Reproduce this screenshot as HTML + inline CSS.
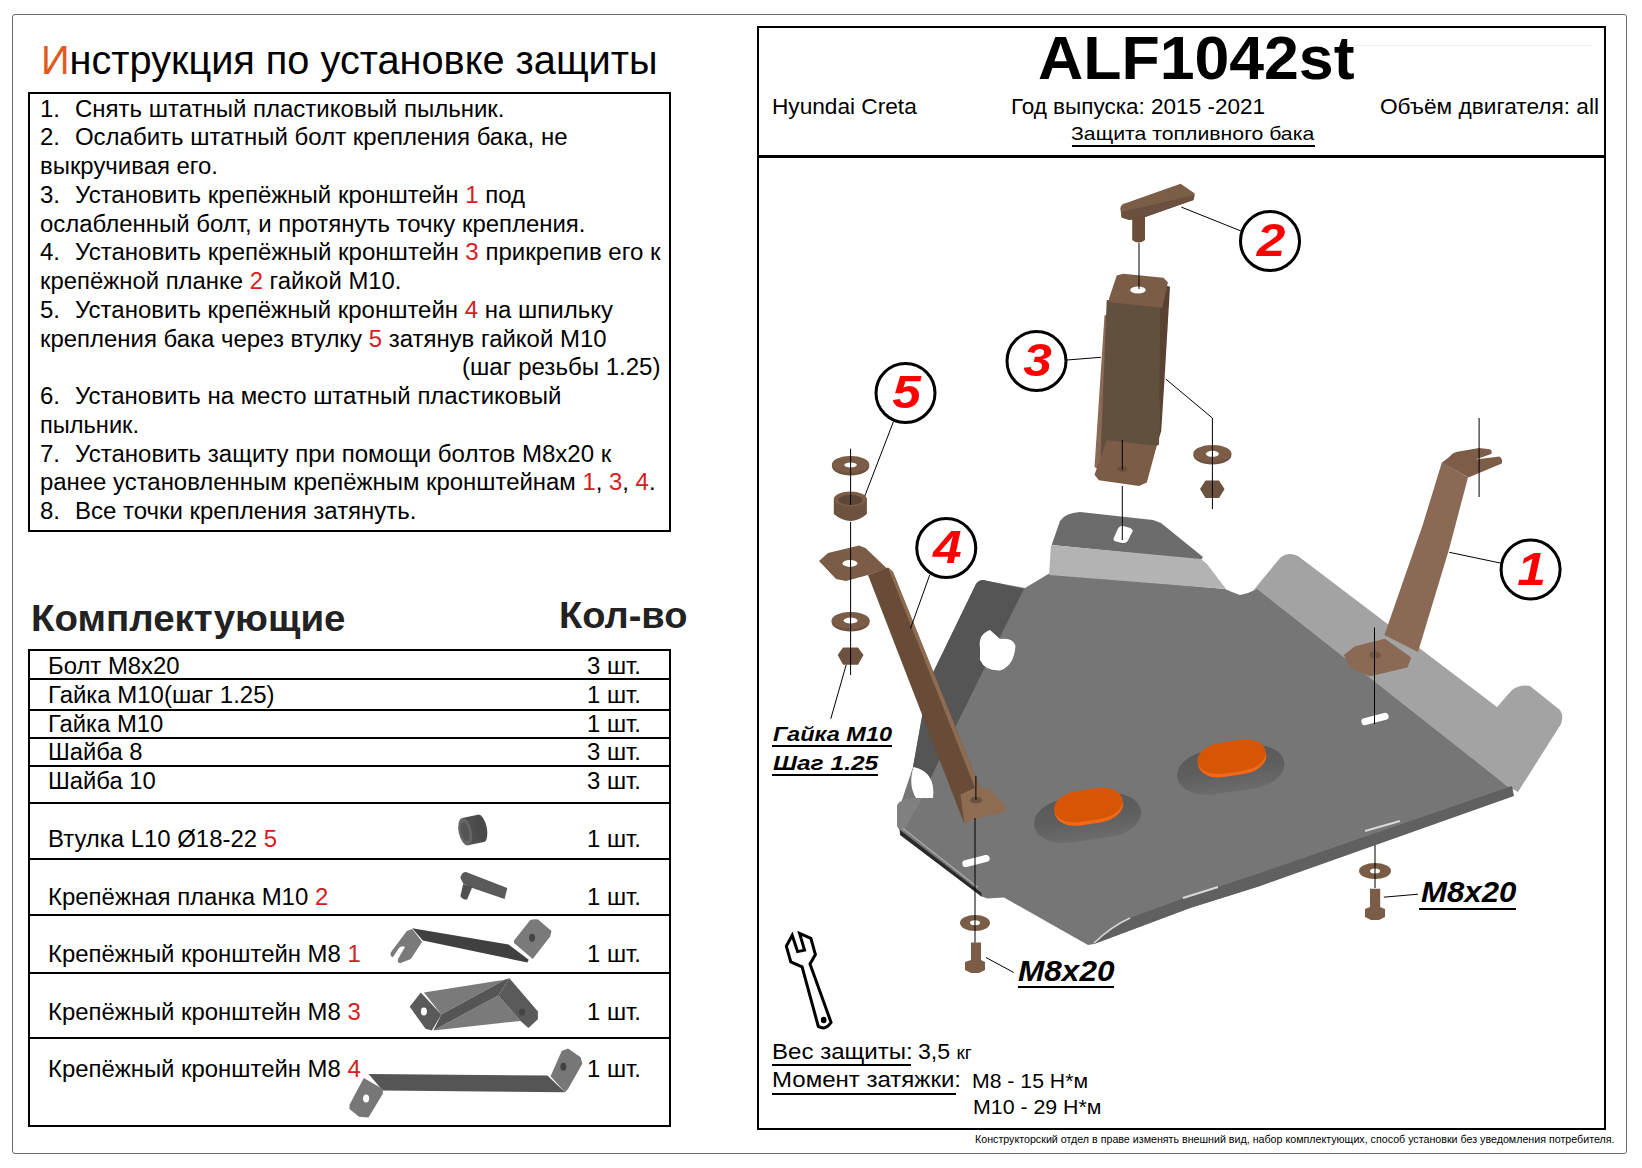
<!DOCTYPE html>
<html><head><meta charset="utf-8"><style>
html,body{margin:0;padding:0;background:#fff;}
body{width:1642px;height:1168px;position:relative;overflow:hidden;font-family:"Liberation Sans",sans-serif;color:#000;}
.a{position:absolute;white-space:nowrap;line-height:1;transform-origin:0 0;}
.r{color:#d42020;}
#outer{position:absolute;left:12px;top:14px;width:1615px;height:1140px;border:1.5px solid #6a6a6a;box-sizing:border-box;border-radius:3px;}
.bx{position:absolute;border:2px solid #000;box-sizing:border-box;}
.hl{position:absolute;height:2px;background:#000;}
svg{position:absolute;left:0;top:0;}
.nb{display:inline-block;width:33.5px;}

</style></head><body>
<div id="outer"></div>
<div class="bx" style="left:28px;top:92px;width:643px;height:440px;"></div>
<div class="bx" style="left:28px;top:649px;width:643px;height:478px;"></div>
<div class="hl" style="left:28px;top:678px;width:643px;"></div>
<div class="hl" style="left:28px;top:709px;width:643px;"></div>
<div class="hl" style="left:28px;top:737px;width:643px;"></div>
<div class="hl" style="left:28px;top:765px;width:643px;"></div>
<div class="hl" style="left:28px;top:802px;width:643px;"></div>
<div class="hl" style="left:28px;top:858px;width:643px;"></div>
<div class="hl" style="left:28px;top:914px;width:643px;"></div>
<div class="hl" style="left:28px;top:972px;width:643px;"></div>
<div class="hl" style="left:28px;top:1037px;width:643px;"></div>
<div class="bx" style="left:757px;top:26px;width:849px;height:1104px;border-width:2.5px;"></div>
<div class="hl" style="left:757px;top:155px;width:849px;height:2.5px;"></div>
<div style="position:absolute;left:1355px;top:45px;width:237px;height:1px;background:#eee;"></div>
<div class="hl" style="left:772px;top:1064px;width:139px;height:1.5px;"></div>
<div class="hl" style="left:772px;top:1093px;width:184px;height:1.5px;"></div>
<div class="hl" style="left:1072px;top:145px;width:243px;height:1.5px;"></div>
<div class="hl" style="left:772px;top:744.5px;width:120px;height:2px;"></div>
<div class="hl" style="left:772px;top:773.5px;width:106px;height:2px;"></div>
<div class="hl" style="left:1018px;top:986px;width:96px;height:2px;"></div>
<div class="hl" style="left:1419px;top:908px;width:97px;height:2px;"></div>

<svg width="1642" height="1168" viewBox="0 0 1642 1168">
<defs>
 <linearGradient id="rg" x1="0" y1="0" x2="0" y2="1"><stop offset="0" stop-color="#5a5a5a"/><stop offset="0.5" stop-color="#5e5e5e"/><stop offset="1" stop-color="#6c6c6c"/></linearGradient>
 <linearGradient id="og" x1="0" y1="1" x2="0" y2="0"><stop offset="0" stop-color="#f06a12"/><stop offset="0.35" stop-color="#d05008"/><stop offset="1" stop-color="#c44600"/></linearGradient>
</defs>
<g id="plate">
 <!-- right light flange -->
 <path d="M1250,595 L1257,586 L1280,558 Q1288,551 1298,556 L1497,707 L1512,690 Q1520,684 1530,686 L1560,710 Q1564,716 1561,724 L1518,792 L1507,786 Z" fill="#a3a3a3"/>
 <!-- main plate -->
 <path d="M1025,588 L1030,585 L1050,573 L1225,589 L1232,592 L1240,595 L1248,593 L1257,589 L1507,786 L1513,788 L1260,886 L1241,892 L1190,908 L1094,944 L1088,945 L1004,897.6 L987,898.5 L982,896.6 L900,834 L897,815 L913,767 L928,683 L976,584 Q979,580 983,580 Z" fill="#767676"/>
 <!-- left dark flange -->
 <path d="M983,580 L1024,589 L983,671 L950,738 L921,798 L916,798 L913,767 L928,683 L976,584 Q979,580 983,580 Z" fill="#555"/>
 <path d="M897,805 Q901,798 916,798 L922,798 L902,834 L897,826 Z" fill="#808080"/>
 <!-- top tab -->
 <path d="M1052,544 L1060,521 Q1065,513 1080,512 L1153,520 L1161,523 L1203,557 L1201,560 L1052,545 Z" fill="#6c6c6c"/>
 <!-- light strip -->
 <path d="M1051,545 L1201,559 L1207,564 L1226,589 L1049,575 Z" fill="#b3b3b3"/>
 <!-- front lip -->
 <path d="M1094,944 Q1112,926 1130,918 L1183,898.5 L1260,873 L1512,786 L1514,796 L1260,886 L1241,892 L1190,908 Z" fill="#606060"/>
 <path d="M1094,943 Q1112,926 1130,918" stroke="#d8d8d8" stroke-width="1.5" fill="none"/>
 <path d="M1183,898 L1218,887" stroke="#d8d8d8" stroke-width="2" fill="none"/>
 <path d="M1365,831 L1400,821" stroke="#d8d8d8" stroke-width="2" fill="none"/>
 <!-- left bottom dark edge -->
 <path d="M900,830 L981,892.5 L982,897 L900,835 Z" fill="#2a2a2a"/>
 <path d="M903,828.5 L978,887.5" stroke="#a9a9a9" stroke-width="1.5" fill="none"/>
 <!-- slots / holes -->
 <path d="M1113.5,538.8 L1118,528.5 Q1119.5,525.7 1122.3,525.7 L1129.5,527.8 Q1133,529.5 1132.6,531.2 L1127.4,541.5 Q1125.5,543.3 1122.3,543.1 L1116,541.6 Q1113,540.5 1113.5,538.8 Z" fill="#fff"/>
 <rect x="1361" y="715.5" width="28" height="7" rx="3.5" fill="#fff" transform="rotate(-15 1375 719)"/>
 <rect x="962" y="857.5" width="28" height="7" rx="3.5" fill="#fff" transform="rotate(-14 976 861)"/>
 <path d="M980,648 Q978,634 990,630 L1000,639 Q1013,637 1015.5,646 Q1014,666 1000,670.5 Q985,671 980,660 Z" fill="#fff"/>
 <path d="M913.5,767 Q936,772 933,798 L916,798 Q908,785 913.5,767 Z" fill="#fff"/>
 <!-- pads -->
 <g transform="rotate(-8 1087.5 818.0)">
  <rect x="1033.5" y="796.0" width="108" height="44" rx="34" ry="22" fill="url(#rg)"/>
 </g>
 <g transform="rotate(-9 1088.5 806.0)">
  <rect x="1054.0" y="792.0" width="69" height="32" rx="24" ry="16" fill="#f06818"/>
  <rect x="1054.0" y="789.5" width="69" height="31" rx="24" ry="15.5" fill="#d65606"/>
 </g>
 <g transform="rotate(-8 1230.8 769.7)">
  <rect x="1176.8" y="747.7" width="108" height="44" rx="34" ry="22" fill="url(#rg)"/>
 </g>
 <g transform="rotate(-9 1231.8 757.7)">
  <rect x="1197.3" y="743.7" width="69" height="32" rx="24" ry="16" fill="#f06818"/>
  <rect x="1197.3" y="741.2" width="69" height="31" rx="24" ry="15.5" fill="#d65606"/>
 </g>
</g>
<g id="brackets" fill="#7b5d47">
 <!-- bracket 4 -->
 <path d="M868,575 L888,567.5 L893,572 L989,810 L985,813 L964,823 Z" fill="#684c38"/>
 <path d="M888,567.5 L893,572 L989,810 L985,813 Z" fill="#8d6c52"/>
 <path d="M819,561 L828,553 L859,545.4 L865.5,548 L887,568.5 L868,575 L846,581 L836,579 Z" fill="#7b5d47"/>
 <ellipse cx="850" cy="563.4" rx="7.5" ry="3.5" fill="#fff"/>
 <path d="M960.5,794.4 L974.6,788 L990,789.3 L1005.4,806 L1004,812.4 L979.7,817.5 L964.3,822.7 Z" fill="#8d6c52"/>
 <ellipse cx="976" cy="800" rx="6" ry="3.5" fill="#6d5240"/>
 <!-- bracket 1 -->
 <path d="M1442,462 L1468,477.5 L1449.2,548.7 L1418,651.9 L1384.4,635 L1422.8,524.7 Z" fill="#8a6a55"/>
 <path d="M1449.2,457 Q1452,453 1456,452 L1479.1,448 L1490,449.2 Q1493,452 1491.1,454 L1475.5,459.5 L1499.5,456.4 Q1503,459 1501.9,463.6 L1468.3,477.5 L1442,462.5 Z" fill="#7d5d48"/>
 <path d="M1343.75,655 L1355,646.25 L1385,638.75 L1411.25,657.5 L1407.5,667.5 L1370,676.25 L1350,667.5 Z" fill="#8a6a55"/>
 <ellipse cx="1375" cy="655" rx="6" ry="3.5" fill="#75583f"/>
 <!-- bracket 3 -->
 <path d="M1104.5,315.6 L1110,313 L1100,470 L1094.5,467 Z" fill="#8a6a55"/>
 <path d="M1106.7,300 L1162,304 L1159,444.7 L1100,470 Z" fill="#62503f"/>
 <path d="M1165.7,285.6 L1170,286.7 L1164.6,378 L1161.2,431.3 L1159,438 L1160.1,310 Z" fill="#5a4232"/>
 <path d="M1116.7,275.6 L1123.4,273.8 L1163.4,277.8 L1167.9,282.3 L1162.3,307.8 L1110,302.3 L1108.9,298.9 Z" fill="#7b5d47"/>
 <ellipse cx="1138" cy="290" rx="7.8" ry="3.5" fill="#fff"/>
 <path d="M1106.7,440.2 L1156.8,445.8 L1146.8,482.5 L1139,485.9 L1098.9,480.3 L1094.5,474.7 Z" fill="#7b5d47"/>
 <ellipse cx="1122.3" cy="469" rx="5" ry="3" fill="#6a4f3c"/>
 <!-- part 2 -->
 <path d="M1120.3,208.4 Q1121,204 1125.4,203.3 L1180.6,183.7 L1194.8,193.6 L1193.5,200 L1146,216.7 L1129.3,220 L1121.6,217.4 Z" fill="#7a5e48"/>
 <path d="M1121,212 L1194.5,195 L1193.5,200 L1146,216.7 L1129.3,220 L1121.6,217.4 Z" fill="#6b5040"/>
 <path d="M1132.2,216 L1145,216 L1145,240 Q1138.6,245 1132.2,240 Z" fill="#6a4e3a"/>
 <!-- washers, bushing, nuts -->
 <ellipse cx="850.6" cy="466" rx="18.7" ry="9.5" fill="#6e5240"/>
 <ellipse cx="850.6" cy="464.5" rx="18.7" ry="8.5" fill="#7b5d47"/>
 <ellipse cx="850.6" cy="465" rx="6.2" ry="2.6" fill="#fff"/>
 <path d="M833.8,499 L833.8,514 Q850.5,528 866.9,514 L866.9,499 Z" fill="#6e5240"/>
 <ellipse cx="850.3" cy="499" rx="16.5" ry="7.5" fill="#7b5d47"/>
 <ellipse cx="850.3" cy="500" rx="12" ry="5" fill="#5e4636"/>
 <ellipse cx="850.6" cy="622" rx="19" ry="9.5" fill="#6e5240"/>
 <ellipse cx="850.6" cy="620.4" rx="19" ry="8.5" fill="#7b5d47"/>
 <ellipse cx="850.6" cy="620.5" rx="7" ry="3" fill="#fff"/>
 <path d="M837.7,655 L843,647.6 L858,647.6 L863.5,655 L858,664.8 L843,664.8 Z" fill="#6e5240"/>
 <ellipse cx="1212.4" cy="455" rx="19" ry="9.5" fill="#6e5240"/>
 <ellipse cx="1212.4" cy="453.6" rx="19" ry="8.5" fill="#7b5d47"/>
 <ellipse cx="1212.4" cy="453.8" rx="6.5" ry="3" fill="#fff"/>
 <path d="M1200,489 L1205.5,480.5 L1219,480.5 L1224.6,489 L1219,498 L1205.5,498 Z" fill="#6e5240"/>
 <ellipse cx="975" cy="923" rx="15" ry="8" fill="#7b5d47"/>
 <ellipse cx="975" cy="922.7" rx="5" ry="2.5" fill="#fff"/>
 <path d="M971,942.5 L981,942.5 L981,960 L985,962 L985,970 L979,973 L971,973 L965,970 L965,962 L971,960 Z" fill="#7b5d47"/>
 <ellipse cx="1375" cy="871" rx="16" ry="8" fill="#7b5d47"/>
 <ellipse cx="1375" cy="871" rx="5" ry="2.5" fill="#fff"/>
 <path d="M1370,888.7 L1380.2,888.7 L1380.2,907 L1385,909 L1385,917 L1379,920 L1371,920 L1365,917 L1365,909 L1370,907 Z" fill="#7b5d47"/>
</g>
<g id="lines" stroke="#000" stroke-width="1" fill="none">
 <path d="M1139,243 L1139,289"/>
 <path d="M1181.3,207.1 L1241,231"/>
 <path d="M1067,360 L1101,357.3"/>
 <path d="M1165.7,379 L1212.4,418 L1212.4,509"/>
 <path d="M1122.3,440 L1122.3,470"/>
 <path d="M1122.3,486 L1122.3,540"/>
 <path d="M893.3,422 L864.8,496"/>
 <path d="M850.6,448.7 L850.6,505"/>
 <path d="M850.6,522 L850.6,675"/>
 <path d="M846.2,664.8 L830.8,718.7"/>
 <path d="M929.7,575 L910.4,628.8"/>
 <path d="M1449.2,552.3 L1500.7,563.1"/>
 <path d="M1479.1,418 L1479.1,497"/>
 <path d="M1374.5,627.5 L1374.5,724"/>
 <path d="M975.9,776 L975.9,800"/>
 <path d="M975,818 L975,942.5"/>
 <path d="M986,957.5 L1013.75,972.5"/>
 <path d="M1375,845 L1375,888"/>
 <path d="M1383.8,897.2 L1418,894.2"/>
</g>
<g id="circles" stroke="#000" stroke-width="3" fill="#fff">
 <circle cx="1270" cy="241" r="29.5"/>
 <circle cx="1036.5" cy="361" r="29.5"/>
 <circle cx="905.5" cy="393" r="29.5"/>
 <circle cx="946.25" cy="548" r="29.5"/>
 <circle cx="1530.6" cy="569.5" r="29.5"/>
</g>
<g font-family="Liberation Sans" font-weight="bold" font-style="italic" font-size="46" fill="#ff0000" text-anchor="middle">
 <text transform="translate(1271.00 255.70) scale(1.12 1)" x="0" y="0">2</text>
 <text transform="translate(1037.50 376.20) scale(1.12 1)" x="0" y="0">3</text>
 <text transform="translate(906.50 408.20) scale(1.12 1)" x="0" y="0">5</text>
 <text transform="translate(947.25 563.20) scale(1.12 1)" x="0" y="0">4</text>
 <text transform="translate(1531.60 584.70) scale(1.12 1)" x="0" y="0">1</text>
</g>
<!-- wrench -->
<path d="M792.2,935.3 L797.6,951.6 L804.5,950.1 L799.6,933.4 L810.9,938.3 L815.4,954.5 L810,963.9 L831.1,1022.5 Q828,1027 824.2,1027.9 Q821,1028 818.3,1026.4 L802.1,966.8 L790.8,961.9 L786.3,946.2 Z" fill="#fff" stroke="#000" stroke-width="3" stroke-linejoin="miter"/>
<ellipse cx="823.7" cy="1020" rx="2.8" ry="3.2" fill="#000"/>
<g id="tableparts">
 <!-- bushing -->
 <g transform="rotate(-12 473 830)">
  <path d="M465,816 L481,816 Q488,830 481,844 L465,844 Z" fill="#4e4e4e"/>
  <ellipse cx="481" cy="830" rx="6" ry="14" fill="#4a4a4a"/>
  <ellipse cx="465" cy="830" rx="6.5" ry="14" fill="#666"/>
  <ellipse cx="465" cy="830" rx="4" ry="9.5" fill="#555"/>
 </g>
 <!-- planka -->
 <path d="M460.4,877.4 Q462,872 466,872.1 L507.3,888.1 L504.6,898.9 L472.4,888.1 L463.1,883.4 Z" fill="#5a5a5a"/>
 <path d="M463.1,884.1 L472.4,886.8 L467.1,899.5 Q463,900 460.4,896.2 Z" fill="#505050"/>
 <!-- bracket 1 -->
 <path d="M390.7,952.4 L406.8,931 L412.2,929 L422.2,941.7 L410.8,959.1 L400.1,963.2 Q397,963 398,959 L405,947 Q402,945 399,948 L393,957 Q390,957 390.7,952.4 Z" fill="#7a7a7a"/>
 <path d="M412.2,928.3 L508.6,944.4 L528.7,959.8 L527.4,962.5 L422.9,940.4 Z" fill="#404040"/>
 <path d="M514,940.4 L530.1,920.3 Q534,918.5 538.1,919.6 L551.5,931 L550.2,936.4 L532.7,959.1 L514,943.1 Z" fill="#7a7a7a"/>
 <ellipse cx="532.1" cy="937.7" rx="3" ry="4" fill="#444"/>
 <!-- bracket 3 -->
 <path d="M423.9,992.4 L504.7,979.8 L441.3,1014.6 Z" fill="#7a7a7a"/>
 <path d="M433.4,1030.4 L498.4,995.6 L520.5,1020.9 Z" fill="#7a7a7a"/>
 <path d="M441.3,1014.6 L504.7,979.8 L509.4,978.2 L498.4,995.6 L433.4,1030.4 Z" fill="#555"/>
 <path d="M409.7,1006.7 L420.8,992.4 L441.3,1014.6 L431.8,1030.4 L425.5,1028.8 Z" fill="#5a5a5a"/>
 <ellipse cx="423.9" cy="1011.4" rx="3" ry="4" fill="#fff"/>
 <path d="M498.4,995.6 L509.4,978.2 L537.9,1011.4 L537.9,1019.3 L528.4,1028 L520.5,1020.9 Z" fill="#5a5a5a"/>
 <ellipse cx="522.1" cy="1012.2" rx="3" ry="3.5" fill="#444"/>
 <!-- bracket 4 -->
 <path d="M368.5,1074 L547.4,1075.6 L564.9,1092.2 L382.8,1090.6 Z" fill="#555"/>
 <path d="M349.5,1104.8 L363.8,1077.9 L382.8,1089 L382.8,1093.8 L368.5,1117.5 L359,1116.7 L349.5,1109 Z" fill="#777"/>
 <ellipse cx="366.1" cy="1098.5" rx="3" ry="4" fill="#fff"/>
 <path d="M550.6,1076.3 L561.7,1051 L568,1048.6 L580.7,1057.3 L582.3,1063.7 L568,1089 L564.9,1092.2 Z" fill="#777"/>
 <ellipse cx="563.3" cy="1066.8" rx="3" ry="4" fill="#444"/>
</g>
</svg>

<div class="a" id="t0" style="left:41.00px;top:40.14px;font-size:40px;transform:scaleX(0.9928);"><span style="color:#e05a1e">И</span>нструкция по установке защиты</div>
<div class="a" id="t1" style="left:40.00px;top:97.73px;font-size:23px;transform:scaleX(1.0433);"><span class="nb">1.</span>Снять штатный пластиковый пыльник.</div>
<div class="a" id="t2" style="left:40.00px;top:126.47px;font-size:23px;transform:scaleX(1.0432);"><span class="nb">2.</span>Ослабить штатный болт крепления бака, не</div>
<div class="a" id="t3" style="left:40.00px;top:155.21px;font-size:23px;transform:scaleX(1.0401);">выкручивая его.</div>
<div class="a" id="t4" style="left:40.00px;top:183.95px;font-size:23px;transform:scaleX(1.0441);"><span class="nb">3.</span>Установить крепёжный кронштейн <span class="r">1</span> под</div>
<div class="a" id="t5" style="left:40.00px;top:212.69px;font-size:23px;transform:scaleX(1.0410);">ослабленный болт, и протянуть точку крепления.</div>
<div class="a" id="t6" style="left:40.00px;top:241.43px;font-size:23px;transform:scaleX(1.0447);"><span class="nb">4.</span>Установить крепёжный кронштейн <span class="r">3</span> прикрепив его к</div>
<div class="a" id="t7" style="left:40.00px;top:270.17px;font-size:23px;transform:scaleX(1.0385);">крепёжной планке <span class="r">2</span> гайкой М10.</div>
<div class="a" id="t8" style="left:40.00px;top:298.91px;font-size:23px;transform:scaleX(1.0433);"><span class="nb">5.</span>Установить крепёжный кронштейн <span class="r">4</span> на шпильку</div>
<div class="a" id="t9" style="left:40.00px;top:327.65px;font-size:23px;transform:scaleX(1.0409);">крепления бака через втулку <span class="r">5</span> затянув гайкой М10</div>
<div class="a" id="t10" style="left:461.50px;top:356.39px;font-size:23px;transform:scaleX(1.0458);">(шаг резьбы 1.25)</div>
<div class="a" id="t11" style="left:40.00px;top:385.13px;font-size:23px;transform:scaleX(1.0423);"><span class="nb">6.</span>Установить на место штатный пластиковый</div>
<div class="a" id="t12" style="left:40.00px;top:413.87px;font-size:23px;transform:scaleX(1.0269);">пыльник.</div>
<div class="a" id="t13" style="left:40.00px;top:442.61px;font-size:23px;transform:scaleX(1.0445);"><span class="nb">7.</span>Установить защиту при помощи болтов М8х20 к</div>
<div class="a" id="t14" style="left:40.00px;top:471.35px;font-size:23px;transform:scaleX(1.0396);">ранее установленным крепёжным кронштейнам <span class="r">1</span>, <span class="r">3</span>, <span class="r">4</span>.</div>
<div class="a" id="t15" style="left:40.00px;top:500.09px;font-size:23px;transform:scaleX(1.0429);"><span class="nb">8.</span>Все точки крепления затянуть.</div>
<div class="a" id="t16" style="left:31.00px;top:599.68px;font-size:37px;transform:scaleX(1.0404);font-weight:bold;color:#222;">Комплектующие</div>
<div class="a" id="t17" style="left:559.00px;top:596.68px;font-size:37px;transform:scaleX(1.0284);font-weight:bold;color:#222;">Кол-во</div>
<div class="a" id="t18" style="left:47.75px;top:654.73px;font-size:23px;transform:scaleX(1.0373);">Болт M8x20</div>
<div class="a" id="t19" style="left:587.00px;top:654.73px;font-size:23px;transform:scaleX(1.0381);">3 шт.</div>
<div class="a" id="t20" style="left:47.75px;top:684.23px;font-size:23px;transform:scaleX(1.0418);">Гайка M10(шаг 1.25)</div>
<div class="a" id="t21" style="left:587.00px;top:684.23px;font-size:23px;transform:scaleX(1.0381);">1 шт.</div>
<div class="a" id="t22" style="left:47.75px;top:712.98px;font-size:23px;transform:scaleX(1.0355);">Гайка M10</div>
<div class="a" id="t23" style="left:587.00px;top:712.98px;font-size:23px;transform:scaleX(1.0381);">1 шт.</div>
<div class="a" id="t24" style="left:47.75px;top:741.23px;font-size:23px;transform:scaleX(1.0346);">Шайба 8</div>
<div class="a" id="t25" style="left:587.00px;top:741.23px;font-size:23px;transform:scaleX(1.0381);">3 шт.</div>
<div class="a" id="t26" style="left:47.75px;top:769.98px;font-size:23px;transform:scaleX(1.0347);">Шайба 10</div>
<div class="a" id="t27" style="left:587.00px;top:769.98px;font-size:23px;transform:scaleX(1.0381);">3 шт.</div>
<div class="a" id="t28" style="left:47.75px;top:827.98px;font-size:23px;transform:scaleX(1.0399);">Втулка L10 Ø18-22 <span class="r">5</span></div>
<div class="a" id="t29" style="left:587.00px;top:827.98px;font-size:23px;transform:scaleX(1.0381);">1 шт.</div>
<div class="a" id="t30" style="left:47.75px;top:886.23px;font-size:23px;transform:scaleX(1.0418);">Крепёжная планка M10 <span class="r">2</span></div>
<div class="a" id="t31" style="left:587.00px;top:886.23px;font-size:23px;transform:scaleX(1.0381);">1 шт.</div>
<div class="a" id="t32" style="left:47.75px;top:943.48px;font-size:23px;transform:scaleX(1.0389);">Крепёжный кронштейн M8 <span class="r">1</span></div>
<div class="a" id="t33" style="left:587.00px;top:943.48px;font-size:23px;transform:scaleX(1.0381);">1 шт.</div>
<div class="a" id="t34" style="left:47.75px;top:1000.98px;font-size:23px;transform:scaleX(1.0389);">Крепёжный кронштейн M8 <span class="r">3</span></div>
<div class="a" id="t35" style="left:587.00px;top:1000.98px;font-size:23px;transform:scaleX(1.0381);">1 шт.</div>
<div class="a" id="t36" style="left:47.75px;top:1057.98px;font-size:23px;transform:scaleX(1.0389);">Крепёжный кронштейн M8 <span class="r">4</span></div>
<div class="a" id="t37" style="left:587.00px;top:1057.98px;font-size:23px;transform:scaleX(1.0381);">1 шт.</div>
<div class="a" id="t38" style="left:1037.75px;top:28.36px;font-size:61px;transform:scaleX(1.0259);"><b>ALF1042st</b></div>
<div class="a" id="t39" style="left:772.00px;top:95.88px;font-size:22px;transform:scaleX(1.0292);">Hyundai Creta</div>
<div class="a" id="t40" style="left:1011.00px;top:95.88px;font-size:22px;transform:scaleX(1.0234);">Год выпуска: 2015 -2021</div>
<div class="a" id="t41" style="left:1379.50px;top:95.88px;font-size:22px;transform:scaleX(1.0299);">Объём двигателя: all</div>
<div class="a" id="t42" style="left:1071.00px;top:123.92px;font-size:19px;transform:scaleX(1.1184);">Защита топливного бака</div>
<div class="a" id="t43" style="left:975.00px;top:1134.54px;font-size:10px;transform:scaleX(1.0676);">Конструкторский отдел в праве изменять внешний вид, набор комплектующих, способ установки без уведомления потребителя.</div>
<div class="a" id="t44" style="left:771.50px;top:1040.63px;font-size:22px;transform:scaleX(1.0933);">Вес защиты:</div>
<div class="a" id="t45" style="left:917.75px;top:1040.63px;font-size:22px;transform:scaleX(1.0507);">3,5 <span style="font-size:18px">кг</span></div>
<div class="a" id="t46" style="left:771.50px;top:1069.38px;font-size:22px;transform:scaleX(1.0920);">Момент затяжки:</div>
<div class="a" id="t47" style="left:972.00px;top:1071.07px;font-size:20px;transform:scaleX(1.0609);">M8 - 15 H*м</div>
<div class="a" id="t48" style="left:973.25px;top:1096.82px;font-size:20px;transform:scaleX(1.0667);">M10 - 29 H*м</div>
<div class="a" id="t49" style="left:772.90px;top:723.22px;font-size:21px;transform:scaleX(1.1195);font-weight:bold;font-style:italic;">Гайка М10</div>
<div class="a" id="t50" style="left:773.00px;top:752.22px;font-size:21px;transform:scaleX(1.1669);font-weight:bold;font-style:italic;">Шаг 1.25</div>
<div class="a" id="t51" style="left:1017.75px;top:956.70px;font-size:29px;transform:scaleX(1.0883);font-weight:bold;font-style:italic;">M8x20</div>
<div class="a" id="t52" style="left:1420.60px;top:878.15px;font-size:29px;transform:scaleX(1.0747);font-weight:bold;font-style:italic;">M8x20</div>
</body></html>
